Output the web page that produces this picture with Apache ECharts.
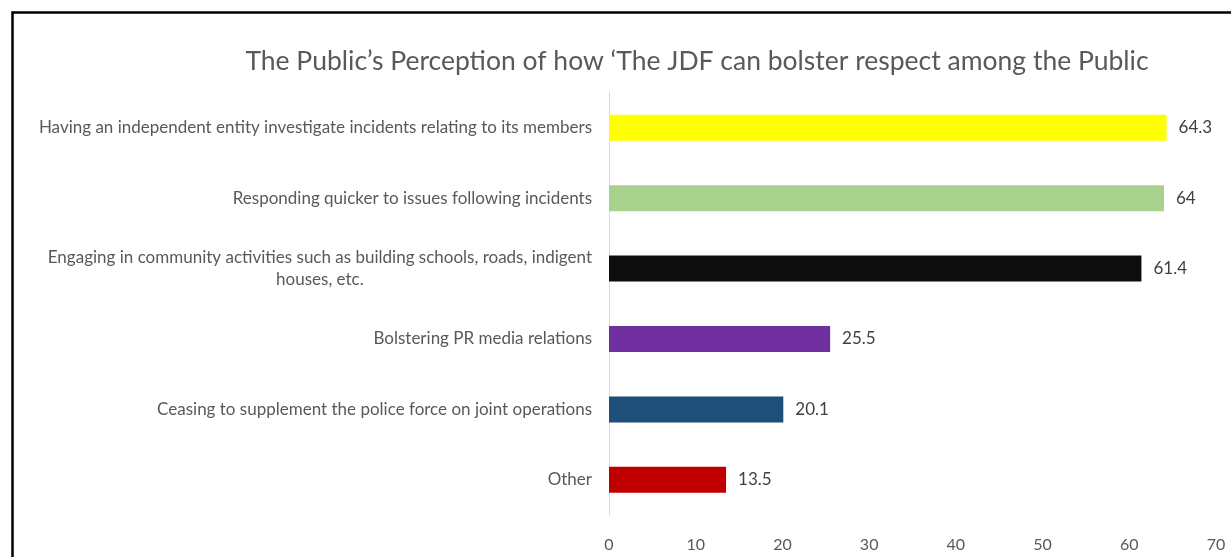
<!DOCTYPE html>
<html><head><meta charset="utf-8">
<script src="https://cdn.jsdelivr.net/npm/echarts@6/dist/echarts.min.js"></script>
<style>html,body{margin:0;padding:0;background:#fff}#c{width:1231px;height:557px}</style>
</head><body><div id="c"></div>
<script>
const titleText = "The Public\u2019s Perception of how \u2018The JDF can bolster respect among the Public";
const categories = [
  "Having an independent entity investigate incidents relating to its members",
  "Responding quicker to issues following incidents",
  "Engaging in community activities such as building schools, roads, indigent\nhouses, etc.",
  "Bolstering PR media relations",
  "Ceasing to supplement the police force on joint operations",
  "Other"
];
const values = [64.3, 64, 61.4, 25.5, 20.1, 13.5];
const colors = ["#FFFF00", "#A9D18E", "#0D0D0D", "#7030A0", "#1F4E79", "#C00000"];
const xTicks = [0, 10, 20, 30, 40, 50, 60, 70];

const chart = echarts.init(document.getElementById('c'));
chart.setOption({
  animation: false,
  backgroundColor: '#fff',
  title: {
    text: titleText, left: 692, top: 43, textAlign: 'center',
    textStyle: { fontFamily: 'Lato', fontWeight: 'normal', fontSize: 26.5, color: '#595959' }
  },
  graphic: [{
    type: 'rect', shape: { x: 12.5, y: 12.5, width: 1240, height: 560 },
    style: { fill: 'none', stroke: '#000', lineWidth: 2.5 }, silent: true
  }],
  grid: { left: 609, right: 15, top: 92.5, bottom: 42, containLabel: false },
  xAxis: {
    type: 'value', min: xTicks[0], max: xTicks[xTicks.length - 1], interval: 10,
    axisLine: { show: false }, axisTick: { show: false }, splitLine: { show: false },
    axisLabel: { margin: 22, color: '#595959', fontSize: 16, fontFamily: 'Lato' }
  },
  yAxis: {
    type: 'category', inverse: true, data: categories,
    axisLine: { show: true, lineStyle: { color: '#D9D9D9', width: 1 } },
    axisTick: { show: false },
    axisLabel: {
      margin: 17, color: '#595959', fontSize: 17, fontFamily: 'Lato', lineHeight: 22,
      formatter: function (v) {
        if (v.indexOf('\n') >= 0) {
          return v.split('\n').map(s => '{c|' + s + '}').join('\n');
        }
        return v;
      },
      rich: { c: { align: 'center', color: '#595959', fontSize: 17, fontFamily: 'Lato', lineHeight: 22 } }
    }
  },
  series: [{
    type: 'bar', barWidth: 26,
    data: values.map((v, i) => ({ value: v, itemStyle: { color: colors[i] } })),
    label: { show: true, position: 'right', distance: 12, color: '#404040', fontSize: 17, fontFamily: 'Lato' }
  }]
});
</script></body></html>
